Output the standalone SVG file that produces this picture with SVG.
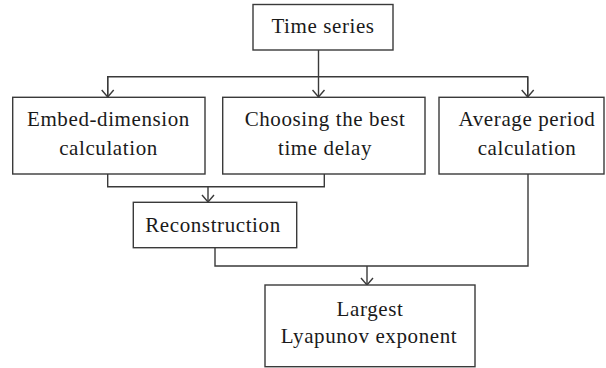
<svg xmlns="http://www.w3.org/2000/svg" width="606" height="368" viewBox="0 0 606 368">
<style>
  .box{fill:#fff;stroke:#3a3a3a;stroke-width:1.4}
  .ln{fill:none;stroke:#3a3a3a;stroke-width:1.4}
  .t{font-family:"Liberation Serif","Times New Roman",serif;font-size:21px;fill:#1a1a1a;text-anchor:middle;letter-spacing:0.6px}
</style>
<defs>
  <marker id="ah" viewBox="-8 -7 9 14" markerWidth="9" markerHeight="14" refX="0" refY="0" orient="auto" markerUnits="userSpaceOnUse">
    <path d="M-7,-6 L0,0 L-7,6" fill="none" stroke="#3a3a3a" stroke-width="1.4"/>
  </marker>
</defs>
<g id="connectors">
  <path class="ln" d="M318.5,50 V97" marker-end="url(#ah)"/>
  <path class="ln" d="M107.7,97 V76.7 H527.7 V97" />
  <path class="ln" d="M107.7,76.7 V97" marker-end="url(#ah)"/>
  <path class="ln" d="M527.7,76.7 V97" marker-end="url(#ah)"/>
  <path class="ln" d="M107.7,174 V186.7 H324.3 V174"/>
  <path class="ln" d="M208,186.7 V202" marker-end="url(#ah)"/>
  <path class="ln" d="M215,247.7 V266 H528 V174"/>
  <path class="ln" d="M367,266 V285" marker-end="url(#ah)"/>
</g>
<g id="time-series">
  <rect class="box" x="253" y="4.5" width="140" height="45.5"/>
  <text class="t" x="323" y="33.3">Time series</text>
</g>
<g id="embed-dimension">
  <rect class="box" x="12.7" y="97.3" width="192.3" height="76.7"/>
  <text class="t" x="108.5" y="126">Embed-dimension</text>
  <text class="t" x="108.5" y="154.5">calculation</text>
</g>
<g id="time-delay">
  <rect class="box" x="222.7" y="97.3" width="202.3" height="76.7"/>
  <text class="t" x="325" y="126">Choosing the best</text>
  <text class="t" x="325" y="154.5">time delay</text>
</g>
<g id="average-period">
  <rect class="box" x="439" y="97.3" width="165" height="76.7"/>
  <text class="t" x="527" y="126">Average period</text>
  <text class="t" x="527" y="154.5">calculation</text>
</g>
<g id="reconstruction">
  <rect class="box" x="133.3" y="202.3" width="163.4" height="45.4"/>
  <text class="t" x="213" y="231.7">Reconstruction</text>
</g>
<g id="lyapunov">
  <rect class="box" x="265" y="285" width="210" height="81.7"/>
  <text class="t" x="370" y="316">Largest</text>
  <text class="t" x="369" y="342.7">Lyapunov exponent</text>
</g>
</svg>
